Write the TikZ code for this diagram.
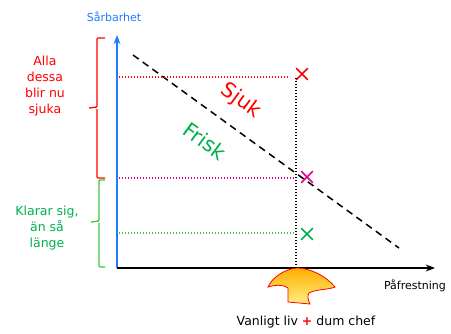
\documentclass[tikz,border=0pt]{standalone}
\usepackage{fontspec}
\setmainfont{DejaVu Sans}
\usetikzlibrary{arrows.meta, shapes.misc}
\definecolor{axisblue}{RGB}{30,125,255}
\definecolor{friskgreen}{RGB}{0,176,80}
\definecolor{bracegreen}{RGB}{60,200,60}
\definecolor{arrowtop}{RGB}{255,175,0}
\definecolor{arrowbottom}{RGB}{255,240,130}
\tikzset{
    cross/.style={cross out, draw, line width=1.6pt, minimum size=10pt, inner sep=0pt},
    level/.style={line width=1.2pt, dash pattern=on 1.3pt off 1.7pt},
    bracket/.style={line width=1.3pt, rounded corners=1pt},
    axislabel/.style={font=\fontsize{11}{13}\selectfont},
    sidetext/.style={align=center, font=\fontsize{12.5}{16}\selectfont},
}
\begin{document}
\begin{tikzpicture}[x=1pt, y=-1pt, >=Stealth]
    \useasboundingbox (0,0) rectangle (451,333);

    % axes
    \coordinate (o) at (117,268);
    \draw[->, axisblue, line width=1.4pt] (o) -- (117,35) coordinate (ytop);
    \draw[->, line width=1.4pt] (o) -- (435,268) coordinate (xend);
    \node[axisblue, axislabel] (ylab) at (114,17) {Sårbarhet};
    \node[axislabel] (xlab) at (415,286) {Påfrestning};

    % limit line
    \draw[line width=1.5pt, dash pattern=on 7pt off 5pt] (133,55) -- (399,248);
    \node[red, font=\huge, rotate=-36] (sjuk) at (241,101) {Sjuk};
    \node[friskgreen, font=\huge, rotate=-36] (frisk) at (205,141) {Frisk};

    % the three cases
    \node[cross, red] (xr) at (302,74) {};
    \node[cross, magenta] (xm) at (307,177) {};
    \node[cross, friskgreen] (xg) at (307,234) {};
    \draw[level, red] (119,77) -- (290,77);
    \draw[level, magenta] (119,178) -- (296,178);
    \draw[level, bracegreen] (119,233) -- (296,233);
    \draw[level] (296,78) -- (296,268);

    % brackets on the left
    \draw[bracket, red] (105,38) -- (97,38) -- (97,107) -- (89,108)
        (97,109) -- (97,178) -- (105,178);
    \node[red, sidetext] (alla) at (45,86) {Alla\\dessa\\blir nu\\sjuka};
    \draw[bracket, bracegreen] (105,180) -- (99,180) -- (99,221) -- (91,222)
        (99,223) -- (99,267) -- (105,267);
    \node[friskgreen, sidetext] (klarar) at (47,228) {Klarar sig,\\än så\\länge};

    % push arrow
    \draw[red, line width=0.8pt, top color=arrowtop, bottom color=arrowbottom] (288,302)
        -- (310,304)
        .. controls (308,300) and (307,296) .. (309,293)
        .. controls (316,289) and (328,290) .. (335,287)
        .. controls (326,276) and (310,268) .. (297,268)
        .. controls (284,269) and (272,278) .. (268,287)
        .. controls (274,285) and (283,284) .. (288,288)
        -- cycle;
    \node[font=\fontsize{12.5}{15}\selectfont] (push) at (306,322) {Vanligt liv {\color{red}\bfseries+} dum chef};
\end{tikzpicture}
\end{document}
